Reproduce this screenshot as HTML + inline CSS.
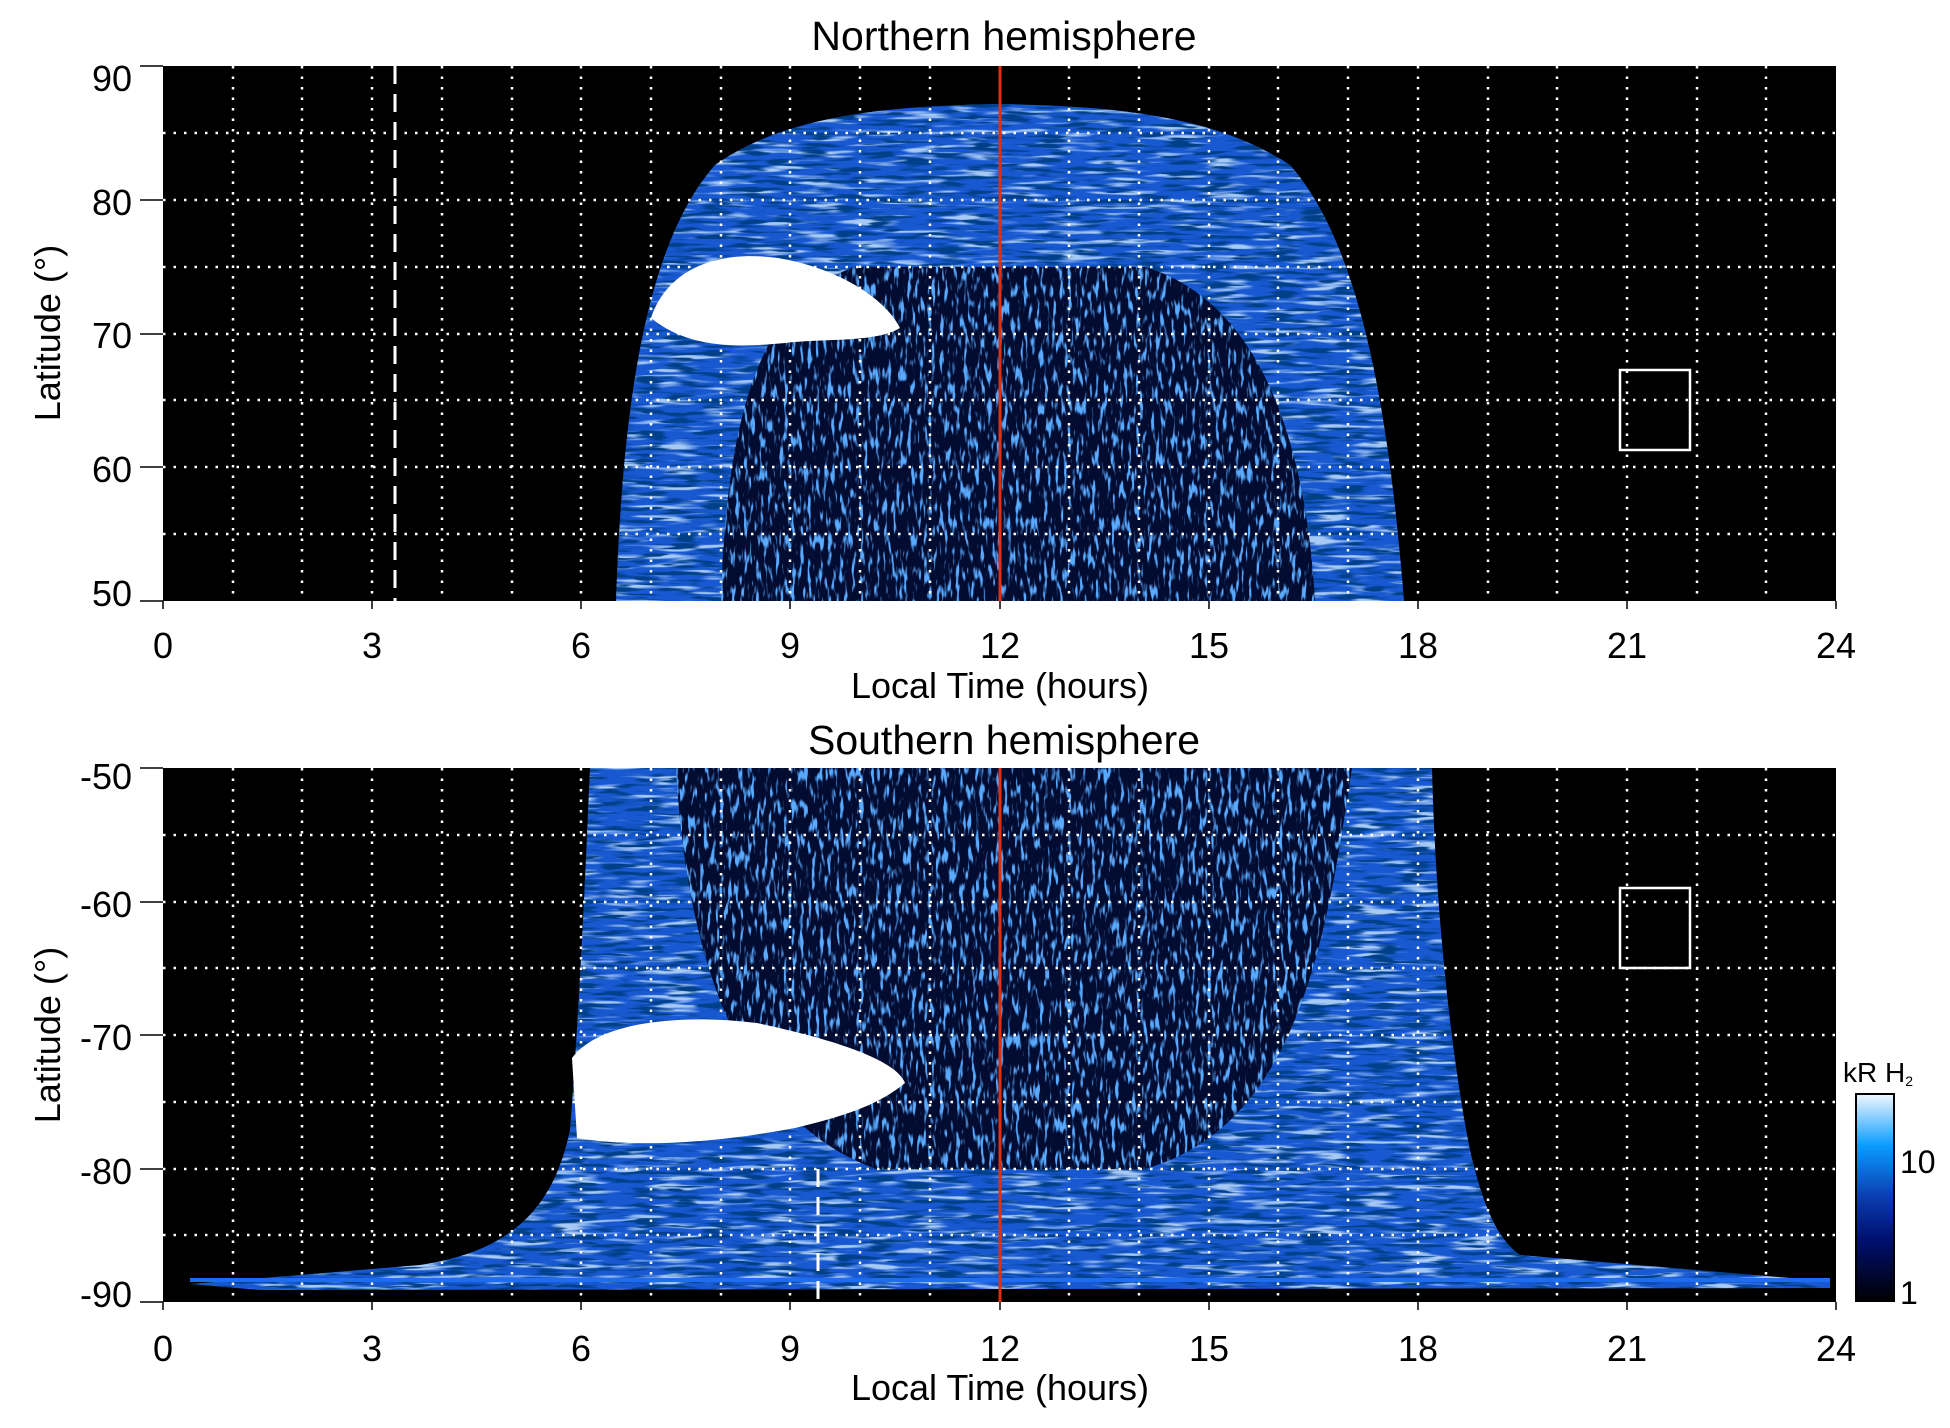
<!DOCTYPE html>
<html><head><meta charset="utf-8"><style>
html,body{margin:0;padding:0;background:#fff;}
svg text{font-family:"Liberation Sans",sans-serif;fill:#000;}
</style></head><body>
<svg width="1950" height="1423" viewBox="0 0 1950 1423" xmlns="http://www.w3.org/2000/svg">
<defs>
<filter id="spk" x="0" y="0" width="100%" height="100%">
<feTurbulence type="fractalNoise" baseFrequency="0.25 0.06" numOctaves="2" seed="3" result="n"/>
<feColorMatrix in="n" type="matrix" values="0 0 0 0 0.1  0 0 0 0 0.4  0 0 0 0 1  0 0 0 6 -3.2" result="c"/>
<feComposite in="c" in2="SourceGraphic" operator="in"/>
</filter>
<filter id="str" x="0" y="0" width="100%" height="100%">
<feTurbulence type="fractalNoise" baseFrequency="0.02 0.2" numOctaves="2" seed="7" result="n"/>
<feColorMatrix in="n" type="matrix" values="0 0 0 0 0.6  0 0 0 0 0.8  0 0 0 0 1  0 0 0 5 -2.6" result="c"/>
<feComposite in="c" in2="SourceGraphic" operator="in"/>
</filter>
<filter id="drk" x="0" y="0" width="100%" height="100%">
<feTurbulence type="fractalNoise" baseFrequency="0.03 0.25" numOctaves="2" seed="11" result="n"/>
<feColorMatrix in="n" type="matrix" values="0 0 0 0 0  0 0 0 0 0.05  0 0 0 0 0.25  0 0 0 6 -3.0" result="c"/>
<feComposite in="c" in2="SourceGraphic" operator="in"/>
</filter>
<clipPath id="c1"><rect x="163" y="66" width="1673" height="535"/></clipPath>
<clipPath id="c2"><rect x="163" y="768" width="1673" height="534"/></clipPath>
<linearGradient id="cb" x1="0" y1="1" x2="0" y2="0">
<stop offset="0" stop-color="#000"/><stop offset="0.3" stop-color="#001070"/><stop offset="0.5" stop-color="#0a3cb0"/><stop offset="0.75" stop-color="#0a9cff"/><stop offset="1" stop-color="#f2f8ff"/></linearGradient>
</defs>

<!-- TOP PANEL -->
<rect x="163" y="66" width="1673" height="535" fill="#000"/>
<g clip-path="url(#c1)">
<path d="M616,601 C622,430 640,250 715,165 C790,112 900,106 1000,104 C1100,106 1210,112 1290,165 C1365,250 1390,430 1404,601 Z" fill="#1858d0"/>
<path d="M616,601 C622,430 640,250 715,165 C790,112 900,106 1000,104 C1100,106 1210,112 1290,165 C1365,250 1390,430 1404,601 Z" fill="#fff" filter="url(#str)" opacity="0.8"/>
<path d="M616,601 C622,430 640,250 715,165 C790,112 900,106 1000,104 C1100,106 1210,112 1290,165 C1365,250 1390,430 1404,601 Z" fill="#fff" filter="url(#drk)"/>
<path d="M721,601 C726,430 755,300 855,267 L1145,267 C1255,300 1305,430 1315,601 Z" fill="#020b30"/>
<path d="M721,601 C726,430 755,300 855,267 L1145,267 C1255,300 1305,430 1315,601 Z" fill="#fff" filter="url(#spk)"/>
<path d="M651,318 C668,268 718,250 778,258 C838,268 885,298 900,328 C875,343 825,338 785,343 C735,348 688,348 651,318 Z" fill="#fff"/>
</g>
<g stroke="#fff" stroke-width="2.5" stroke-dasharray="2.5,8" fill="none">
<path d="M233,66V601M302,66V601M372,66V601M442,66V601M512,66V601M581,66V601M651,66V601M721,66V601M790,66V601M860,66V601M930,66V601M1069,66V601M1139,66V601M1209,66V601M1278,66V601M1348,66V601M1418,66V601M1488,66V601M1557,66V601M1627,66V601M1697,66V601M1766,66V601"/>
<path d="M163,133H1836M163,200H1836M163,267H1836M163,334H1836M163,400H1836M163,467H1836M163,534H1836"/>
</g>
<line x1="395" y1="66" x2="395" y2="601" stroke="#fff" stroke-width="3" stroke-dasharray="18,10"/>
<line x1="1000" y1="66" x2="1000" y2="601" stroke="#e03010" stroke-width="3"/>
<rect x="1620" y="370" width="70" height="80" fill="none" stroke="#fff" stroke-width="2.5"/>

<!-- BOTTOM PANEL -->
<rect x="163" y="768" width="1673" height="534" fill="#000"/>
<g clip-path="url(#c2)">
<path d="M590,768 L1432,768 C1435,900 1450,1050 1470,1150 C1485,1215 1500,1240 1520,1255 L1790,1278 L1830,1282 L1830,1288 L260,1290 L190,1284 L420,1265 C520,1250 555,1200 570,1130 C580,1000 585,880 590,768 Z" fill="#1858d0"/>
<path d="M590,768 L1432,768 C1435,900 1450,1050 1470,1150 C1485,1215 1500,1240 1520,1255 L1790,1278 L1830,1282 L1830,1288 L260,1290 L190,1284 L420,1265 C520,1250 555,1200 570,1130 C580,1000 585,880 590,768 Z" fill="#fff" filter="url(#str)" opacity="0.8"/>
<path d="M590,768 L1432,768 C1435,900 1450,1050 1470,1150 C1485,1215 1500,1240 1520,1255 L1790,1278 L1830,1282 L1830,1288 L260,1290 L190,1284 L420,1265 C520,1250 555,1200 570,1130 C580,1000 585,880 590,768 Z" fill="#fff" filter="url(#drk)"/>
<path d="M676,768 L1352,768 C1325,950 1295,1125 1145,1169 L876,1169 C736,1118 686,950 676,768 Z" fill="#020b30"/>
<path d="M676,768 L1352,768 C1325,950 1295,1125 1145,1169 L876,1169 C736,1118 686,950 676,768 Z" fill="#fff" filter="url(#spk)"/>
<path d="M572,1058 C597,1023 677,1013 757,1023 C827,1038 895,1058 905,1083 C875,1108 835,1118 795,1128 C715,1143 637,1148 577,1138 Z" fill="#fff"/>
<rect x="190" y="1278" width="1640" height="4" fill="#1e6cf0"/>
</g>
<g stroke="#fff" stroke-width="2.5" stroke-dasharray="2.5,8" fill="none">
<path d="M233,768V1302M302,768V1302M372,768V1302M442,768V1302M512,768V1302M581,768V1302M651,768V1302M721,768V1302M790,768V1302M860,768V1302M930,768V1302M1069,768V1302M1139,768V1302M1209,768V1302M1278,768V1302M1348,768V1302M1418,768V1302M1488,768V1302M1557,768V1302M1627,768V1302M1697,768V1302M1766,768V1302"/>
<path d="M163,835H1836M163,902H1836M163,968H1836M163,1035H1836M163,1102H1836M163,1169H1836M163,1235H1836"/>
</g>
<line x1="818" y1="1169" x2="818" y2="1302" stroke="#fff" stroke-width="3" stroke-dasharray="18,10"/>
<line x1="1000" y1="768" x2="1000" y2="1302" stroke="#e03010" stroke-width="3"/>
<rect x="1620" y="888" width="70" height="80" fill="none" stroke="#fff" stroke-width="2.5"/>

<!-- axes ticks -->
<g stroke="#000" stroke-width="1.5">
<path d="M140,66H163M140,200H163M140,334H163M140,467H163M140,601H163"/>
<path d="M140,768H163M140,902H163M140,1035H163M140,1169H163M140,1302H163"/>
<path d="M163,601V609M372,601V609M581,601V609M790,601V609M1000,601V609M1209,601V609M1418,601V609M1627,601V609M1836,601V609"/>
<path d="M163,1302V1310M372,1302V1310M581,1302V1310M790,1302V1310M1000,1302V1310M1209,1302V1310M1418,1302V1310M1627,1302V1310M1836,1302V1310"/>
</g>

<g font-size="36" text-anchor="end">
<text x="132" y="91">90</text><text x="132" y="215">80</text><text x="132" y="348">70</text><text x="132" y="482">60</text><text x="132" y="606">50</text>
<text x="132" y="789">-50</text><text x="132" y="917">-60</text><text x="132" y="1050">-70</text><text x="132" y="1184">-80</text><text x="132" y="1307">-90</text>
</g>
<g font-size="36" text-anchor="middle">
<text x="163" y="658">0</text><text x="372" y="658">3</text><text x="581" y="658">6</text><text x="790" y="658">9</text><text x="1000" y="658">12</text><text x="1209" y="658">15</text><text x="1418" y="658">18</text><text x="1627" y="658">21</text><text x="1836" y="658">24</text>
<text x="163" y="1361">0</text><text x="372" y="1361">3</text><text x="581" y="1361">6</text><text x="790" y="1361">9</text><text x="1000" y="1361">12</text><text x="1209" y="1361">15</text><text x="1418" y="1361">18</text><text x="1627" y="1361">21</text><text x="1836" y="1361">24</text>
<text x="1000" y="698">Local Time (hours)</text>
<text x="1000" y="1400">Local Time (hours)</text>
<text x="1004" y="50" font-size="41">Northern hemisphere</text>
<text x="1004" y="754" font-size="41">Southern hemisphere</text>
<text transform="translate(60,333) rotate(-90)">Latitude (°)</text>
<text transform="translate(60,1035) rotate(-90)">Latitude (°)</text>
</g>

<!-- colorbar -->
<rect x="1856" y="1094" width="38" height="207" fill="url(#cb)" stroke="#000" stroke-width="2"/>
<text x="1843" y="1082" font-size="28">kR H<tspan font-size="14" dy="4">2</tspan></text>
<text x="1900" y="1173" font-size="32">10</text>
<text x="1900" y="1304" font-size="32">1</text>
</svg>
</body></html>
